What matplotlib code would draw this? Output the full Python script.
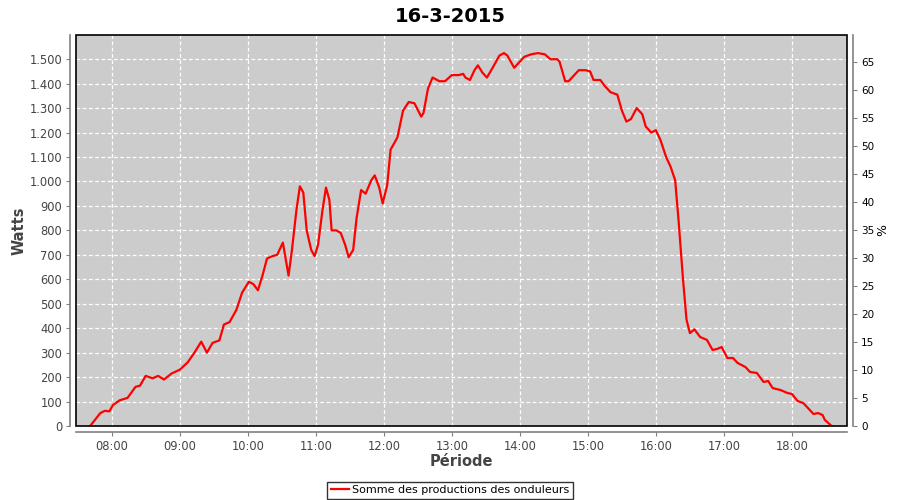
import matplotlib
matplotlib.use('Agg')
import matplotlib.pyplot as plt
from matplotlib.patches import Rectangle
from matplotlib.ticker import FuncFormatter, MultipleLocator
import numpy as np

# --- DATA ---
times = [
    "07:41", "07:50", "07:54", "07:58", "08:01", "08:07", "08:14", "08:21", "08:25", "08:30",
    "08:36", "08:41", "08:46", "08:53", "09:00", "09:07", "09:13", "09:19", "09:24", "09:29",
    "09:35", "09:39", "09:44", "09:50", "09:55", "10:01", "10:05", "10:09", "10:13", "10:17",
    "10:22", "10:26", "10:31", "10:34", "10:36", "10:39", "10:43", "10:46", "10:49", "10:52",
    "10:56", "10:59", "11:02", "11:06", "11:09", "11:12", "11:14", "11:18", "11:22", "11:26",
    "11:29", "11:33", "11:36", "11:40", "11:44", "11:49", "11:52", "11:56", "11:59", "12:03",
    "12:06", "12:12", "12:17", "12:22", "12:27", "12:33", "12:35", "12:39", "12:43", "12:49",
    "12:54", "13:00", "13:06", "13:10", "13:12", "13:16", "13:20", "13:23", "13:27", "13:31",
    "13:36", "13:42", "13:46", "13:49", "13:55", "13:59", "14:04", "14:10", "14:16", "14:22",
    "14:27", "14:33", "14:35", "14:40", "14:43", "14:48", "14:52", "14:58", "15:02", "15:05",
    "15:11", "15:15", "15:20", "15:26", "15:30", "15:34", "15:38", "15:43", "15:48", "15:51",
    "15:56", "16:00", "16:04", "16:09", "16:13", "16:17", "16:20", "16:24", "16:27", "16:30",
    "16:34", "16:39", "16:45", "16:50", "16:54", "16:58", "17:03", "17:08", "17:12", "17:19",
    "17:23", "17:29", "17:35", "17:39", "17:43", "17:50", "17:56", "18:00", "18:05", "18:10",
    "18:14", "18:19", "18:23", "18:27", "18:29", "18:35",
]
watts = [
    0, 53, 62, 60, 85, 105, 115, 160, 165, 205,
    195, 205, 190, 215, 230, 260, 300, 345, 300, 340,
    350, 415, 425, 475, 545, 590, 580, 555, 615, 685,
    695, 700, 750, 670, 615, 720, 885, 980, 955, 800,
    720, 695, 740, 885, 975, 925, 800, 800, 790, 740,
    690, 720, 850, 965, 950, 1005, 1025, 975, 910, 985,
    1130, 1180, 1290, 1325, 1320, 1265, 1280, 1380, 1425, 1410,
    1410, 1435, 1435, 1440, 1425, 1415, 1455, 1475, 1445, 1425,
    1465, 1515, 1525, 1515, 1465, 1485, 1510, 1520, 1525, 1520,
    1500, 1500, 1490, 1410, 1410, 1435, 1455, 1455, 1450, 1415,
    1415, 1390, 1365, 1355, 1290, 1245, 1255, 1300, 1275, 1225,
    1200, 1210, 1170, 1100, 1060, 1005, 840, 595, 435, 380,
    395, 364, 352, 311, 315, 323, 278, 278, 258, 241,
    221, 217, 180, 184, 155, 147, 135, 131, 102, 94,
    74, 49, 53, 45, 25, 0,
]
hour_ticks = ["08:00", "09:00", "10:00", "11:00", "12:00", "13:00",
              "14:00", "15:00", "16:00", "17:00", "18:00"]

def to_hours(s):
    h, m = s.split(':')
    return int(h) + int(m) / 60.0

x = np.array([to_hours(t) for t in times])
y = np.array(watts)

# --- STYLE ---
plt.rcParams['font.family'] = ['DejaVu Sans']
AXIS_GRAY = '#808080'
TEXT_GRAY = '#444444'

fig = plt.figure(figsize=(9, 5), dpi=100)
ax = fig.add_axes([0.0844, 0.148, 0.857, 0.782])
ax.set_facecolor('#CCCCCC')

ax.plot(x, y, color='#FF0000', linewidth=1.6, zorder=3)

ax.set_xlim(7.475, 18.813)
ax.set_ylim(0, 1599)
ax.set_xticks([to_hours(t) for t in hour_ticks])
ax.set_xticklabels(hour_ticks)
ax.yaxis.set_major_locator(MultipleLocator(100))
ax.yaxis.set_major_formatter(FuncFormatter(lambda v, p: f"{int(v):,}".replace(',', '.')))
ax.grid(True, color='white', linestyle=(0, (3, 2)), linewidth=0.9)
ax.set_axisbelow(True)

# percent axis on the right
ax2 = ax.twinx()
ax2.set_ylim(0, 69.77)
ax2.yaxis.set_major_locator(MultipleLocator(5))

for a in (ax, ax2):
    for s in a.spines.values():
        s.set_visible(False)
ax.spines['left'].set_visible(True)
ax.spines['bottom'].set_visible(True)
ax.spines['left'].set_position(('outward', 4))
ax.spines['bottom'].set_position(('outward', 4))
ax2.spines['right'].set_visible(True)
ax2.spines['right'].set_position(('outward', 4))
for s in (ax.spines['left'], ax.spines['bottom'], ax2.spines['right']):
    s.set_color(AXIS_GRAY)
    s.set_linewidth(1.2)

ax.tick_params(colors=AXIS_GRAY, labelcolor=TEXT_GRAY, length=3, labelsize=8.3, pad=3)
ax2.tick_params(colors=AXIS_GRAY, labelcolor='black', length=3, labelsize=7.5, pad=3)

# black plot border
ax.add_patch(Rectangle((0, 0), 1, 1, transform=ax.transAxes, fill=False,
                       edgecolor='black', linewidth=1.2, zorder=5, clip_on=False))

ax.set_ylabel('Watts', fontsize=10.5, fontweight='bold', color=TEXT_GRAY, labelpad=2)
ax.set_xlabel('Période', fontsize=10.5, fontweight='bold', color=TEXT_GRAY, labelpad=1)
ax2.set_ylabel('%', fontsize=9, color='black', labelpad=1)
fig.suptitle('16-3-2015', fontsize=14, fontweight='bold', y=0.985)

leg_line, = ax.plot([], [], color='#FF0000', linewidth=1.6,
                    label='Somme des productions des onduleurs')
fig.legend(handles=[leg_line], loc='lower center', bbox_to_anchor=(0.5, -0.006),
           fontsize=8, frameon=True, fancybox=False, edgecolor='black',
           handlelength=1.6, borderpad=0.3, handletextpad=0.3, borderaxespad=0.4)

fig.savefig('out.png', dpi=100)
